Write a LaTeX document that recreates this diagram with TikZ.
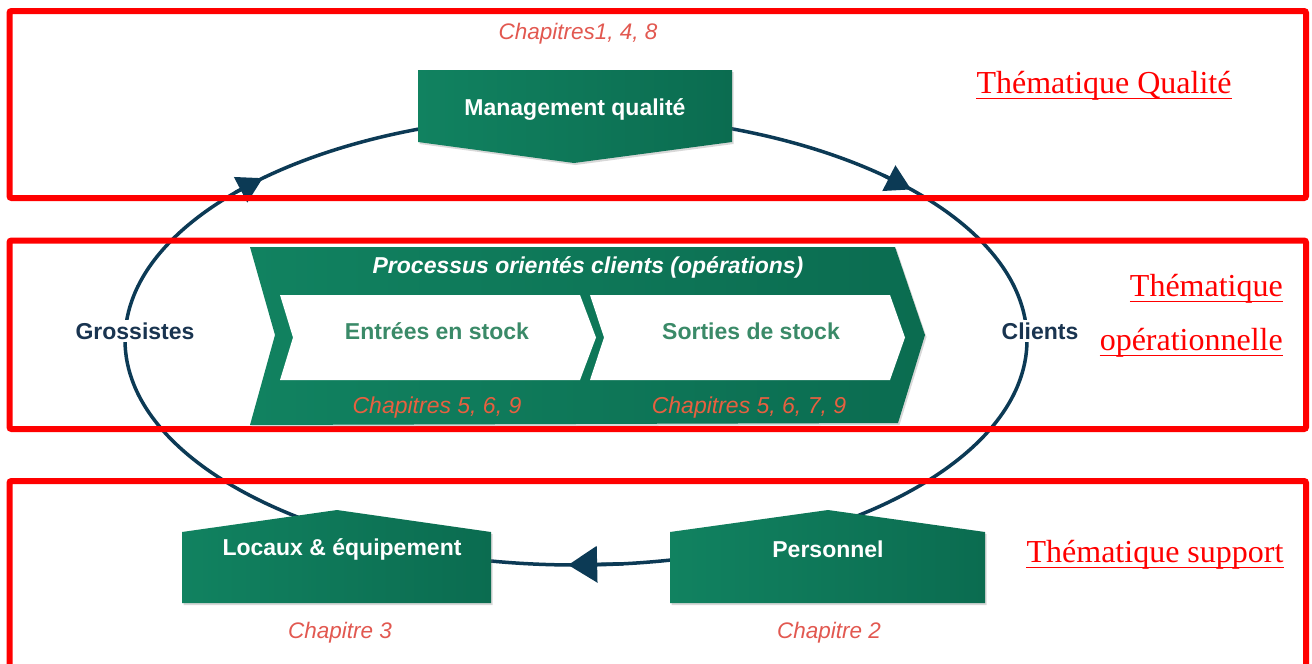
\documentclass[tikz,border=0pt]{standalone}
\usepackage{fontspec}
\setmainfont{Liberation Serif}
\newfontfamily\arialf{Liberation Sans}
\usetikzlibrary{arrows.meta,shadows}
\definecolor{gA}{RGB}{17,130,96}
\definecolor{gB}{RGB}{11,108,80}
\definecolor{navy}{RGB}{12,58,85}
\definecolor{chapred}{RGB}{226,88,80}
\definecolor{chapor}{RGB}{232,96,64}
\definecolor{txtgreen}{RGB}{58,138,104}
\definecolor{lblnavy}{RGB}{25,52,80}
\begin{document}
\begin{tikzpicture}[x=1pt,y=-1pt,
  redbox/.style={draw=red, line width=6pt, rounded corners=2pt},
  greenshape/.style={left color=gA, right color=gB, draw=none,
     drop shadow={opacity=0.3, shadow xshift=1.5pt, shadow yshift=-2pt}},
  whitechev/.style={fill=white, draw=none},
  boxtxt/.style={font=\arialf\bfseries\fontsize{23}{27}\selectfont, text=white, inner sep=0pt},
  chevtxt/.style={font=\arialf\bfseries\fontsize{23}{27}\selectfont, text=txtgreen, inner sep=0pt},
  sidetxt/.style={font=\arialf\bfseries\fontsize{23}{27}\selectfont, text=lblnavy, fill=white, inner sep=3pt},
  chaptxt/.style={font=\arialf\itshape\fontsize{22.5}{26}\selectfont, text=chapred, inner sep=0pt},
  chapin/.style={font=\arialf\itshape\fontsize{23}{26}\selectfont, text=chapor, inner sep=0pt},
  themetxt/.style={font=\fontsize{32}{37}\selectfont, text=red, inner sep=0pt},
  uline/.style={draw=red, line width=1.6pt},
  ell/.style={draw=navy, line width=3.5pt},
  ellarrow/.style={navy, line width=3.5pt}
]
\clip (0,0) rectangle (1312,664);
\fill[white] (0,0) rectangle (1312,664);

% cycle ellipse
\draw[ell] (576,340) ellipse [x radius=451pt, y radius=225pt];
\coordinate (a1s) at ({576+451*cos(221)},{340+225*sin(221)});
\coordinate (a1e) at ({576+451*cos(226)},{340+225*sin(226)});
\coordinate (a2s) at ({576+451*cos(313)},{340+225*sin(313)});
\coordinate (a2e) at ({576+451*cos(318)},{340+225*sin(318)});
\coordinate (a3s) at ({576+451*cos(84)},{340+225*sin(84)});
\coordinate (a3e) at ({576+451*cos(91)},{340+225*sin(91)});
\draw[ellarrow, -{Triangle[length=25pt,width=28pt]}] (a1s) -- (a1e);
\draw[ellarrow, -{Triangle[length=25pt,width=28pt]}] (a2s) -- (a2e);
\draw[ellarrow, -{Triangle[length=29pt,width=36pt]}] (a3s) -- (a3e);

% red theme boxes
\draw[redbox] (9.5,11) rectangle (1306,198);
\draw[redbox] (9.5,240.5) rectangle (1306,429);
\draw[redbox] (9.5,481) rectangle (1306,700);

% Management qualite
\path[greenshape] (418,70) -- (732,70) -- (732,142) -- (574,163) -- (418,142) -- cycle;
\node[boxtxt] (mq) at (575,110) {Management qualité};
\node[chaptxt] (c148) at (578,34) {Chapitres1, 4, 8};

% Process shape
\path[greenshape] (250,247) -- (895,247) -- (925,335) -- (898,423) -- (250,425) -- (275,335) -- cycle;
\path[whitechev] (280,295) -- (580,295) -- (596,337.5) -- (580,380) -- (280,380) -- (293,337.5) -- cycle;
\path[whitechev] (590,295) -- (890,295) -- (905,337.5) -- (890,380) -- (590,380) -- (604,337.5) -- cycle;
\node[font=\arialf\bfseries\itshape\fontsize{23}{27}\selectfont, text=white, inner sep=0pt] (proc) at (588,267) {Processus orientés clients (opérations)};
\node[chevtxt] (entree) at (437,331) {Entrées en stock};
\node[chevtxt] (sortie) at (751,331) {Sorties de stock};
\node[chapin] (c569) at (437,408) {Chapitres 5, 6, 9};
\node[chapin] (c5679) at (749,408) {Chapitres 5, 6, 7, 9};

% side labels
\node[sidetxt] (gros) at (135,331) {Grossistes};
\node[sidetxt] (cli) at (1040,331) {Clients};

% bottom boxes
\path[greenshape] (182,532) -- (337,510) -- (491,532) -- (491,603) -- (182,603) -- cycle;
\node[boxtxt] (loc) at (342,549) {Locaux \& équipement};
\node[chaptxt] (c3) at (340,633) {Chapitre 3};
\path[greenshape] (670,532) -- (828,510) -- (985,532) -- (985,603) -- (670,603) -- cycle;
\node[boxtxt] (pers) at (828,549) {Personnel};
\node[chaptxt] (c2) at (829,633) {Chapitre 2};

% theme labels
\node[themetxt, anchor=base] (tq) at (1104,93) {Thématique Qualité};
\draw[uline] ([yshift=-5.5pt]tq.base west) -- ([yshift=-5.5pt]tq.base east);
\node[themetxt, anchor=base east] (to1) at (1283,296) {Thématique};
\draw[uline] ([yshift=-5.5pt]to1.base west) -- ([yshift=-5.5pt]to1.base east);
\node[themetxt, anchor=base east] (to2) at (1283,350) {opérationnelle};
\draw[uline] ([yshift=-5.5pt]to2.base west) -- ([yshift=-5.5pt]to2.base east);
\node[themetxt, anchor=base] (ts) at (1155,562) {Thématique support};
\draw[uline] ([yshift=-5.5pt]ts.base west) -- ([yshift=-5.5pt]ts.base east);
\end{tikzpicture}
\end{document}
